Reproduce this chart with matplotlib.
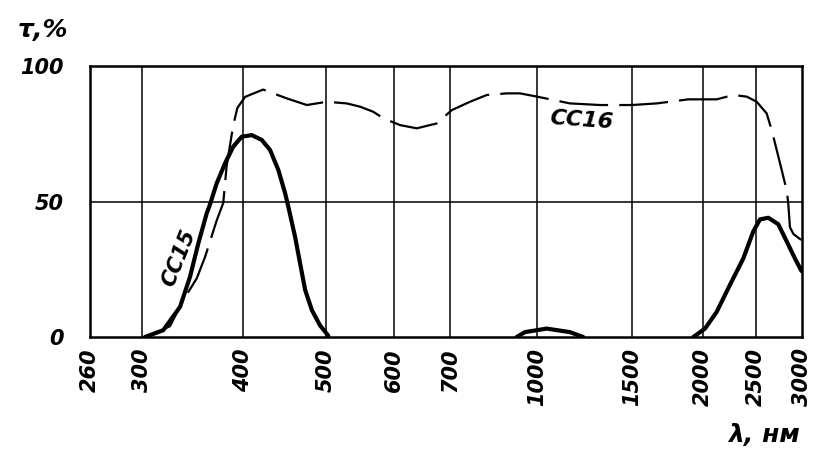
import numpy as np
import matplotlib
matplotlib.use("Agg")
import matplotlib.pyplot as plt

# Wavelength axis: tick values and where they sit along the axis (0..1).
tick_nm = [260, 300, 400, 500, 600, 700, 1000, 1500, 2000, 2500, 3000]
tick_pos = [0.0, 51.7, 153.0, 236.0, 304.3, 360.0, 447.0, 542.0, 613.0, 666.0, 712.0]
tick_pos = [p / 712.0 for p in tick_pos]
y_ticks = [0, 50, 100]

# СС15 transmission (solid); NaN separates the three pass bands
cc15_nm = [302.8, 318.9, 334.5, 344.1, 352.3, 360.8, 364.2, 371.2, 380.0, 389.0,
           398.5, 409.5, 420.7, 430.2, 439.9, 448.0, 451.9, 460.1, 466.4, 472.8,
           481.4, 492.0, 503.0, np.nan,
           920, 952, 1042, 1151, 1218, np.nan,
           1923, 2017, 2119, 2240, 2370, 2472, 2540, 2625, 2731, 2823, 2917, 2995]
cc15_t = [0.0, 2.5, 11.1, 22.2, 34.5, 45.6, 48.9, 56.7, 64.0, 70.2,
          73.9, 74.5, 72.7, 69.0, 61.6, 53.0, 48.0, 37.0, 27.1, 17.3,
          9.9, 4.3, 0.5, np.nan,
          0.0, 1.8, 3.1, 1.8, 0.0, np.nan,
          0.0, 3.1, 9.3, 19.2, 29.0, 39.0, 43.4, 44.0, 41.6, 35.3, 29.0, 24.3]

# СС16 transmission (dashed)
cc16_nm = [307.1, 325.1, 337.6, 350.7, 359.1, 371.2, 378.2, 381.8, 389.0, 393.6,
           402.2, 422.2, 450.4, 474.9, 501.0, 528.4, 547.5, 567.3, 582.7, 609.5,
           638.4, 674.8, 704.8, 759.8, 813.7, 883.4, 932.7, 1000, 1151, 1309,
           1500, 1658, 1809, 1884, 2119, 2272, 2404, 2507, 2608, 2660,
           2714, 2768, 2823, 2841, 2860, 2900, 2995]
cc16_t = [0.5, 4.0, 13.6, 21.6, 29.5, 43.0, 49.5, 63.0, 78.0, 84.5,
          88.6, 91.3, 88.0, 85.6, 86.8, 86.2, 85.0, 83.1, 80.7, 78.2,
          77.0, 78.8, 83.7, 86.8, 89.3, 89.9, 89.9, 88.7, 86.2, 85.6,
          85.6, 86.2, 87.2, 87.7, 87.7, 89.3, 88.7, 86.8, 82.5, 76.4,
          69.0, 61.6, 54.2, 49.3, 40.5, 38.0, 35.7]

log_ticks = np.log10(tick_nm)


def forward(x):
    x = np.clip(np.asarray(x, dtype=float), 1e-9, None)
    return np.interp(np.log10(x), log_ticks, tick_pos)


def inverse(p):
    return 10 ** np.interp(np.asarray(p, dtype=float), tick_pos, log_ticks)


plt.rcParams["font.family"] = ["DejaVu Sans"]

fig = plt.figure(figsize=(8.16, 4.58), dpi=100)
ax = fig.add_axes([90 / 816, 121 / 458, 712 / 816, 271 / 458])
ax.set_xscale("function", functions=(forward, inverse))
ax.set_xlim(260, 3000)
ax.set_ylim(0, 100)

for v in tick_nm[1:-1]:
    ax.axvline(v, color="black", lw=1.1, zorder=1)
ax.axhline(50, color="black", lw=1.1, zorder=1)

ax.plot(cc15_nm, cc15_t, color="black", lw=3.0, solid_capstyle="round",
        solid_joinstyle="round", zorder=3)
ax.plot(cc16_nm, cc16_t, color="black", lw=1.6, dashes=(22, 5), zorder=3)

ax.set_xticks(tick_nm)
ax.set_xticklabels([str(v) for v in tick_nm], rotation=90, fontsize=15,
                   fontstyle="italic", fontweight="bold", va="top")
ax.set_yticks(y_ticks)
ax.set_yticklabels([str(v) for v in y_ticks], fontsize=15,
                   fontstyle="italic", fontweight="bold")
ax.tick_params(axis="x", length=0, pad=8)
ax.tick_params(axis="y", length=0, pad=19)

for s in ax.spines.values():
    s.set_linewidth(1.8)

ax.text(333, 29, "CC15", rotation=68, ha="center", va="center", fontsize=15,
        fontstyle="italic", fontweight="bold")
ax.text(1207, 80, "CC16", rotation=-4, ha="center", va="center", fontsize=16,
        fontstyle="italic", fontweight="bold")

fig.text(18 / 816, 1 - 30 / 458, "τ,%", ha="left", va="center", fontsize=18,
         fontstyle="italic", fontweight="bold")
fig.text(728 / 816, 1 - 435 / 458, "λ, нм", ha="left", va="center", fontsize=18,
         fontstyle="italic", fontweight="bold")

fig.savefig("out.png", dpi=100)
